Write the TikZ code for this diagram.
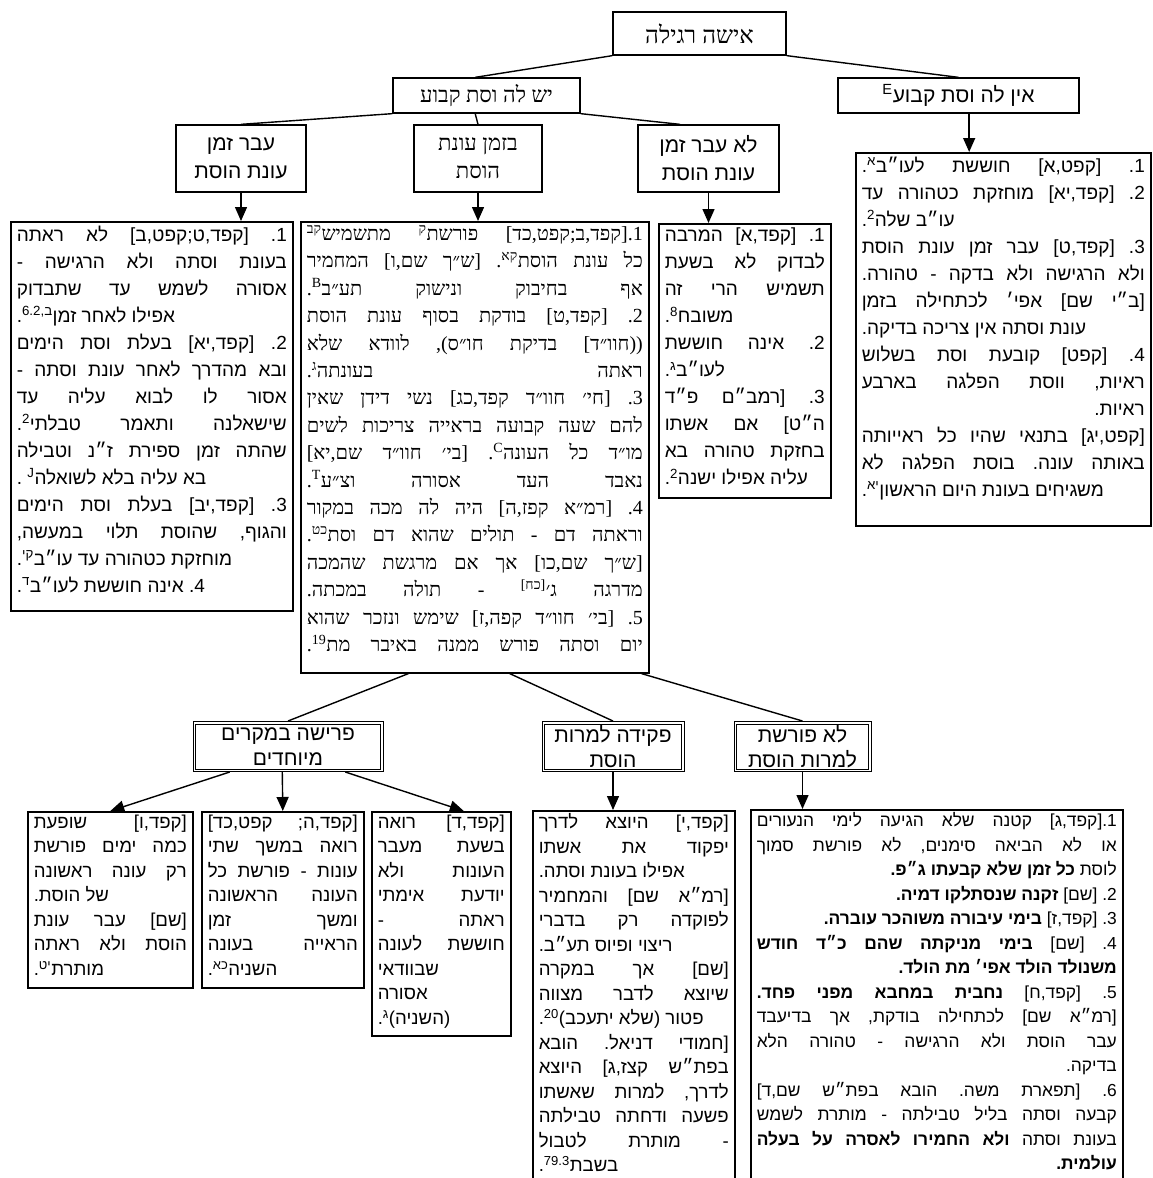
\documentclass[tikz,border=0pt]{standalone}
\usepackage{fontspec}
\usetikzlibrary{arrows.meta,calc}
\TeXXeTstate=1
\frenchspacing
\newfontfamily\hesans[Script=Hebrew]{Liberation Sans}
\newfontfamily\heserif[Script=Hebrew]{Liberation Serif}
\newcommand\JL[1]{\hbox to\hsize{\beginR#1\endR}}
\newcommand\RL[1]{\hbox to\hsize{\hfil\beginR#1\endR}}
\newcommand\LL[1]{\hbox to\hsize{\beginR#1\endR\hfil}}
\newcommand\SP[1]{\textsuperscript{#1}}
\newcommand\Hb[1]{\beginR#1\endR}
\begin{document}
\begin{tikzpicture}[x=1pt,y=-1pt,
  hb/.style={draw,line width=1.3pt,inner sep=2pt,align=center},
  tb/.style={draw,line width=1.6pt,inner xsep=6pt,inner ysep=0pt,anchor=north west},
  dbl/.style={draw,line width=1pt,inner sep=2pt,align=center,
    path picture={\draw[line width=0.8pt] ([shift={(2.4pt,-2.4pt)}]path picture bounding box.north west) rectangle ([shift={(-2.4pt,2.4pt)}]path picture bounding box.south east);}},
  ln/.style={line width=1.4pt},
  arr/.style={line width=1.4pt,-{Triangle[width=12pt,length=14pt]}},
  hserif/.style={font=\heserif\fontsize{22}{28}\selectfont},
  hsans/.style={font=\hesans\fontsize{21}{28}\selectfont},
  bsans/.style={font=\hesans\fontsize{21}{25}\selectfont},
  body/.style={font=\hesans\fontsize{19}{27}\selectfont},
  bodyserif/.style={font=\heserif\fontsize{20}{27.4}\selectfont},
  bot/.style={font=\hesans\fontsize{18.6}{24.5}\selectfont},
  botd/.style={font=\hesans\fontsize{17.4}{24.5}\selectfont}]
\useasboundingbox (0,0) rectangle (1153,1178);
\clip (0,0) rectangle (1153,1178);

% headers
\node[hb,font=\heserif\fontsize{24}{28}\selectfont,minimum width=173pt,minimum height=43pt] (top) at (699.5,33.5) {\Hb{אישה רגילה}};
\node[hb,hserif,minimum width=187pt,minimum height=35pt] (ysh) at (486.5,95.5) {\Hb{יש לה וסת קבוע}};
\node[hb,hsans,minimum width=241pt,minimum height=35pt] (ein) at (958.5,95.5) {\Hb{אין לה וסת קבוע\SP{E}}};
\node[hb,hsans,minimum width=130pt,minimum height=67pt] (avar) at (241,158.5) {\Hb{עבר זמן}\\\Hb{עונת הוסת}};
\node[hb,hserif,minimum width=128pt,minimum height=67pt] (bizman) at (478,158.5) {\Hb{בזמן עונת}\\\Hb{הוסת}};
\node[hb,hsans,minimum width=141pt,minimum height=67pt] (lo) at (708.5,158.5) {\Hb{לא עבר זמן}\\\Hb{עונת הוסת}};

% text boxes upper
\node[tb,body] (L1) at (10,221) {\parbox[t][389pt][t]{270pt}{\vspace*{4pt}%
\JL{1. [קפד,ט;קפט,ב] לא ראתה}
\JL{בעונת וסתה ולא הרגישה -}
\JL{אסורה לשמש עד שתבדוק}
\LL{אפילו לאחר זמן\SP{ב,6.2}.}
\JL{2. [קפד,יא] בעלת וסת הימים}
\JL{ובא מהדרך לאחר עונת וסתה -}
\JL{אסור לו לבוא עליה עד}
\JL{שישאלנה ותאמר טבלתי\SP{2}.}
\JL{שהתה זמן ספירת ז״נ וטבילה}
\LL{בא עליה בלא לשואלה\SP{J} .}
\JL{3. [קפד,יב] בעלת וסת הימים}
\JL{והגוף, שהוסת תלוי במעשה,}
\LL{מוחזקת כטהורה עד עו״ב\SP{קי}.}
\LL{4. אינה חוששת לעו״ב\SP{ד}.}}};

\node[tb,bodyserif] (C1) at (300,221) {\parbox[t][451pt][t]{336pt}{\vspace*{3pt}%
\JL{1.[קפד,ב;קפט,כד] פורשת\SP{ק} מתשמיש\SP{קב}}
\JL{כל עונת הוסת\SP{קא}. [ש״ך שם,ו] המחמיר}
\JL{אף בחיבוק ונישוק תע״ב\SP{B}.}
\JL{2. [קפד,ט] בודקת בסוף עונת הוסת}
\JL{((חוו״ד] בדיקת חו״ס), לוודא שלא}
\JL{ראתה בעונתה\SP{ג}.}
\JL{3. [חי׳ חוו״ד קפד,כג] נשי דידן שאין}
\JL{להם שעה קבועה בראייה צריכות לשים}
\JL{מו״ד כל העונה\SP{C}. [בי׳ חוו״ד שם,יא]}
\JL{נאבד העד אסורה וצ״ע\SP{T}.}
\JL{4. [רמ״א קפז,ה] היה לה מכה במקור}
\JL{וראתה דם - תולים שהוא דם וסת\SP{כט}.}
\JL{[ש״ך שם,כו] אך אם מרגשת שהמכה}
\JL{מדרגה ג׳\SP{[כח]} - תולה במכתה.}
\JL{5. [בי׳ חוו״ד קפה,ז] שימש ונזכר שהוא}
\JL{יום וסתה פורש ממנה באיבר מת\SP{19}.}}};

\node[tb,body] (M1) at (658,223) {\parbox[t][274pt][t]{160pt}{\vspace*{4pt}%
\JL{1. [קפד,א] המרבה}
\JL{לבדוק לא בשעת}
\JL{תשמיש הרי זה}
\LL{משובח\SP{8}.}
\JL{2. אינה חוששת}
\LL{לעו״ב\SP{ג}.}
\JL{3. [רמב״ם פ״ד}
\JL{ה״ט] אם אשתו}
\JL{בחזקת טהורה בא}
\LL{עליה אפילו ישנה\SP{2}.}}};

\node[tb,body] (R1) at (855,152) {\parbox[t][373pt][t]{283pt}{\vspace*{4pt}%
\JL{1. [קפט,א] חוששת לעו״ב\SP{א}.}
\JL{2. [קפד,יא] מוחזקת כטהורה עד}
\LL{עו״ב שלה\SP{2}.}
\JL{3. [קפד,ט] עבר זמן עונת הוסת}
\JL{ולא הרגישה ולא בדקה - טהורה.}
\JL{[ב״י שם] אפי׳ לכתחילה בזמן}
\LL{עונת וסתה אין צריכה בדיקה.}
\JL{4. [קפט] קובעת וסת בשלוש}
\JL{ראיות, ווסת הפלגה בארבע}
\RL{ראיות.\kern8pt}
\JL{[קפט,יג] בתנאי שהיו כל ראייותה}
\JL{באותה עונה. בוסת הפלגה לא}
\LL{משגיחים בעונת היום הראשון\SP{יא}.}}};

% bottom headers
\node[dbl,bsans,minimum width=190pt,minimum height=50pt] (prisha) at (288,746.5) {\Hb{פרישה במקרים}\\\Hb{מיוחדים}};
\node[dbl,bsans,minimum width=142pt,minimum height=50pt] (pkida) at (613,746.5) {\Hb{פקידה למרות}\\\Hb{הוסת}};
\node[dbl,bsans,minimum width=137pt,minimum height=50pt] (lop) at (802.5,746.5) {\Hb{לא פורשת}\\\Hb{למרות הוסת}};

% bottom boxes
\node[tb,bot] (A) at (27,811) {\parbox[t][176pt][t]{153pt}{\vspace*{3pt}%
\JL{[קפד,ו] שופעת}
\JL{כמה ימים פורשת}
\JL{רק עונה ראשונה}
\LL{של הוסת.}
\JL{[שם] עבר עונת}
\JL{הוסת ולא ראתה}
\LL{מותרת\SP{יט}.}}};

\node[tb,bot] (B) at (201,811) {\parbox[t][176pt][t]{150pt}{\vspace*{3pt}%
\JL{[קפד,ה; קפט,כד]}
\JL{רואה במשך שתי}
\JL{עונות - פורשת כל}
\JL{העונה הראשונה}
\JL{ומשך זמן}
\JL{הראייה בעונה}
\LL{השניה\SP{כא}.}}};

\node[tb,bot] (C) at (371,811) {\parbox[t][224pt][t]{127pt}{\vspace*{3pt}%
\JL{[קפד,ד] רואה}
\JL{בשעת מעבר}
\JL{העונות ולא}
\JL{יודעת אימתי}
\JL{ראתה -}
\JL{חוששת לעונה}
\LL{שבוודאי}
\LL{אסורה}
\LL{(השניה)\SP{ג}.}}};

\node[tb,bot] (P) at (532,810) {\parbox[t][420pt][t]{190pt}{\vspace*{3pt}%
\JL{[קפד,י] היוצא לדרך}
\JL{יפקוד את אשתו}
\LL{אפילו בעונת וסתה.}
\JL{[רמ״א שם] והמחמיר}
\JL{לפוקדה רק בדברי}
\LL{ריצוי ופיוס תע״ב.}
\JL{[שם] אך במקרה}
\JL{שיוצא לדבר מצווה}
\LL{פטור (שלא יתעכב)\SP{20}.}
\JL{[חמודי דניאל. הובא}
\JL{בפת״ש קצז,ג] היוצא}
\JL{לדרך, למרות שאשתו}
\JL{פשעה ודחתה טבילתה}
\JL{- מותרת לטבול}
\LL{בשבת\SP{79.3}.}}};

\node[tb,botd] (D) at (750,809) {\parbox[t][420pt][t]{360pt}{\vspace*{3pt}%
\JL{1.[קפד,ג] קטנה שלא הגיעה לימי הנעורים}
\JL{או לא הביאה סימנים, לא פורשת סמוך}
\RL{לוסת \textbf{כל זמן שלא קבעתו ג״פ.}}
\RL{2. [שם] \textbf{זקנה שנסתלקו דמיה.}}
\RL{3. [קפד,ז] \textbf{בימי עיבורה משוהכר עוברה.}}
\JL{4. [שם] \textbf{בימי מניקתה שהם כ״ד חודש}}
\RL{\textbf{משנולד הולד אפי׳ מת הולד.}}
\JL{5. [קפד,ח] \textbf{נחבית במחבא מפני פחד.}}
\JL{[רמ״א שם] לכתחילה בודקת, אך בדיעבד}
\JL{עבר הוסת ולא הרגישה - טהורה הלא}
\RL{בדיקה.}
\JL{6. [תפארת משה. הובא בפת״ש שם,ד]}
\JL{קבעה וסתה בליל טבילתה - מותרת לשמש}
\JL{בעונת וסתה \textbf{ולא החמירו לאסרה על בעלה}}
\RL{\textbf{עולמית.}}}};

% connectors
\draw[ln] (top.south west) -- ($(ysh.north west)!0.44!(ysh.north east)$);
\draw[ln] (top.south east) -- (ein.north);
\draw[ln] (ysh.south west) -- (avar.north);
\draw[ln] ($(ysh.south west)!0.44!(ysh.south east)$) -- (bizman.north);
\draw[ln] (ysh.south east) -- ($(lo.north west)!0.3!(lo.north east)$);
\draw[arr] ($(ein.south west)!0.544!(ein.south east)$) coordinate (einarr) -- (einarr |- R1.north);
\draw[arr] (avar.south) -- (avar.south |- L1.north);
\draw[arr] (bizman.south) -- (bizman.south |- C1.north);
\draw[arr] (lo.south) -- (lo.south |- M1.north);
\draw[ln] ($(C1.south west)!0.31!(C1.south east)$) -- (prisha.north);
\draw[ln] ($(C1.south west)!0.6!(C1.south east)$) -- (pkida.north);
\draw[ln] ($(C1.south west)!0.977!(C1.south east)$) -- (lop.north);
\draw[arr] ($(prisha.south west)!0.195!(prisha.south east)$) -- (A.north);
\draw[arr] ($(prisha.south west)!0.47!(prisha.south east)$) -- (B.north);
\draw[arr] ($(prisha.south west)!0.8!(prisha.south east)$) -- ($(C.north west)!0.66!(C.north east)$);
\draw[arr] (pkida.south) -- (pkida.south |- P.north);
\draw[arr] (lop.south) -- (lop.south |- D.north);
\end{tikzpicture}
\end{document}
